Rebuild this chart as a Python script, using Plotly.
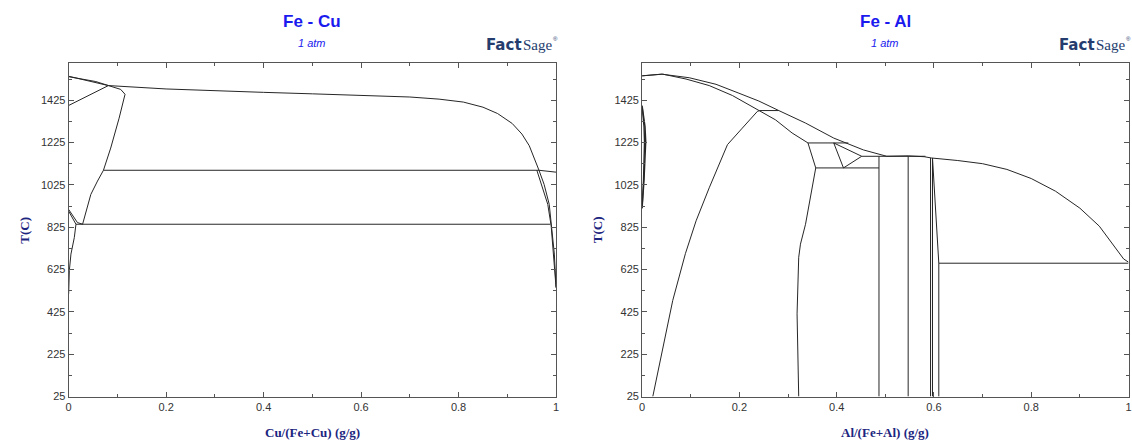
import plotly.graph_objects as go

# ---------------- Fe - Cu data ----------------
cu_liq_x = [0, 0.0816, 0.2, 0.3, 0.4, 0.5, 0.6, 0.7, 0.76, 0.81, 0.85, 0.88, 0.91, 0.93, 0.945, 0.955, 0.965, 1.0]
cu_liq_t = [1538, 1494, 1478, 1469, 1462, 1455, 1449, 1440, 1430, 1416, 1392, 1362, 1315, 1265, 1210, 1150, 1094, 1085]
cu_dsol_x = [0, 0.0557, 0.0816]
cu_dsol_t = [1536, 1513, 1494]
cu_dg_x = [0, 0.0816]
cu_dg_t = [1400, 1494]
cu_gam_x = [0.0816, 0.1067, 0.1157, 0.1137, 0.1035, 0.0863, 0.0714, 0.0592, 0.0455, 0.0286]
cu_gam_t = [1494, 1476, 1453, 1434, 1340, 1199, 1094, 1043, 980, 839]
cu_per_x = [0.0714, 0.965]
cu_per_t = [1094, 1094]
cu_solv_x = [0.9606, 0.983, 0.990, 0.995, 0.998, 1.0]
cu_solv_t = [1094, 933, 831, 700, 600, 540]
cu_sol2_x = [0.965, 0.9755, 0.986, 0.992, 0.9965, 0.9986, 1.0]
cu_sol2_t = [1094, 1027, 933, 809, 698, 604, 540]
cu_eut_x = [0.015, 0.988]
cu_eut_t = [839, 839]
cu_ag_x = [0, 0.018, 0.0286]
cu_ag_t = [909, 847, 839]
cu_ag2_x = [0, 0.015]
cu_ag2_t = [901, 839]
cu_asol_x = [0.015, 0.0116, 0.0047, 0.0014, 0]
cu_asol_t = [839, 776, 698, 620, 510]

# ---------------- Fe - Al data ----------------
al_liq_x = [0, 0.04, 0.097, 0.152, 0.199, 0.240, 0.281, 0.336, 0.394, 0.424, 0.455, 0.503, 0.547,
            0.58, 0.595, 0.649, 0.70, 0.75, 0.80, 0.85, 0.90, 0.94, 0.97, 0.99, 1.0]
al_liq_t = [1540, 1548, 1531, 1500, 1458, 1421, 1376, 1317, 1246, 1218, 1190, 1160, 1162,
            1158, 1152, 1140, 1125, 1098, 1055, 995, 915, 830, 740, 675, 660]
al_sol_x = [0, 0.0426, 0.0903, 0.138, 0.1857, 0.213, 0.2417, 0.2744, 0.3084, 0.341]
al_sol_t = [1540, 1548, 1525, 1494, 1447, 1411, 1376, 1332, 1270, 1223]
al_h1376_x = [0.2417, 0.281]
al_h1376_t = [1376, 1376]
al_b2_x = [0.022, 0.0495, 0.063, 0.089, 0.111, 0.138, 0.1755, 0.206, 0.237, 0.2417]
al_b2_t = [25, 338, 479, 700, 855, 1011, 1215, 1293, 1372, 1376]
al_h1223_x = [0.341, 0.424]
al_h1223_t = [1223, 1223]
al_epsl_x = [0.341, 0.357]
al_epsl_t = [1223, 1105]
al_bcc_x = [0.357, 0.349, 0.336, 0.3256, 0.322, 0.3186, 0.320, 0.322]
al_bcc_t = [1105, 996, 839, 745, 683, 416, 200, 25]
al_epsr_x = [0.394, 0.414]
al_epsr_t = [1223, 1105]
al_epst_x = [0.394, 0.4515]
al_epst_t = [1223, 1160]
al_epsf_x = [0.4515, 0.414]
al_epsf_t = [1160, 1105]
al_h1105_x = [0.357, 0.487]
al_h1105_t = [1105, 1105]
al_h1160_x = [0.4515, 0.5825]
al_h1160_t = [1160, 1160]
al_feal2_x = [0.487, 0.487]
al_feal2_t = [1160, 25]
al_fe2al5_x = [0.547, 0.547]
al_fe2al5_t = [1160, 25]
al_v3_x = [0.593, 0.593]
al_v3_t = [1152, 25]
al_v4_x = [0.597, 0.597]
al_v4_t = [1152, 25]
al_fe4_x = [0.597, 0.600, 0.604, 0.608, 0.610, 0.610]
al_fe4_t = [1152, 1050, 900, 750, 655, 25]
al_eut_x = [0.610, 1.0]
al_eut_t = [655, 655]
al_gl1_x = [0, 0.003, 0.006, 0.0075, 0.0065, 0.004, 0.002, 0]
al_gl1_t = [1400, 1360, 1300, 1230, 1150, 1050, 980, 915]
al_gl2_x = [0, 0.002, 0.004, 0.005, 0.0045, 0.003, 0.001, 0]
al_gl2_t = [1395, 1350, 1300, 1230, 1150, 1050, 970, 915]

cu_curves = [(cu_liq_x, cu_liq_t), (cu_dsol_x, cu_dsol_t), (cu_dg_x, cu_dg_t), (cu_gam_x, cu_gam_t),
             (cu_per_x, cu_per_t), (cu_solv_x, cu_solv_t), (cu_sol2_x, cu_sol2_t), (cu_eut_x, cu_eut_t),
             (cu_ag_x, cu_ag_t), (cu_ag2_x, cu_ag2_t), (cu_asol_x, cu_asol_t)]
al_curves = [(al_liq_x, al_liq_t), (al_sol_x, al_sol_t), (al_h1376_x, al_h1376_t), (al_b2_x, al_b2_t),
             (al_h1223_x, al_h1223_t), (al_epsl_x, al_epsl_t), (al_bcc_x, al_bcc_t), (al_epsr_x, al_epsr_t),
             (al_epst_x, al_epst_t), (al_epsf_x, al_epsf_t), (al_h1105_x, al_h1105_t), (al_h1160_x, al_h1160_t),
             (al_feal2_x, al_feal2_t), (al_fe2al5_x, al_fe2al5_t), (al_v3_x, al_v3_t), (al_v4_x, al_v4_t),
             (al_fe4_x, al_fe4_t), (al_eut_x, al_eut_t), (al_gl1_x, al_gl1_t), (al_gl2_x, al_gl2_t)]

y_ticks = [25, 225, 425, 625, 825, 1025, 1225, 1425]
x_ticks = [0, 0.2, 0.4, 0.6, 0.8, 1]
x_ticktext = ["0", "0.2", "0.4", "0.6", "0.8", "1"]

titles = ["Fe - Cu", "Fe - Al"]
subtitle = "1 atm"
x_titles = ["Cu/(Fe+Cu) (g/g)", "Al/(Fe+Al) (g/g)"]
y_title = "T(C)"
logo_a, logo_b, logo_r = "Fact", "Sage", "®"

W, H = 1132, 445
fig = go.Figure()

for xs, ts in cu_curves:
    fig.add_trace(go.Scatter(x=xs, y=ts, mode="lines", line=dict(color="#262626", width=1),
                             xaxis="x", yaxis="y", showlegend=False, hoverinfo="skip"))
for i, (xs, ts) in enumerate(al_curves):
    lw = 1.4 if i >= len(al_curves) - 2 else 1
    fig.add_trace(go.Scatter(x=xs, y=ts, mode="lines", line=dict(color="#262626", width=lw),
                             xaxis="x2", yaxis="y2", showlegend=False, hoverinfo="skip"))

dom_l = [66 / W, 556 / W]
dom_r = [642.5 / W, 1131.5 / W]
dom_y = [1 - 402 / H, 1 - 64 / H]

def xax(dom, anchor):
    return dict(domain=dom, anchor=anchor, range=[0, 1], showgrid=False, zeroline=False,
                showline=True, linecolor="#555555", linewidth=1, mirror="allticks",
                ticks="inside", ticklen=5, tickcolor="#555555", tickvals=x_ticks, ticktext=x_ticktext,
                tickfont=dict(family="Liberation Sans, Arial", size=11, color="#333333"),
                minor=dict(ticks="inside", ticklen=3, tickcolor="#555555", dtick=0.1, tick0=0, showgrid=False))

def yax(anchor):
    return dict(domain=dom_y, anchor=anchor, range=[25, 1600], showgrid=False, zeroline=False,
                showline=True, linecolor="#555555", linewidth=1, mirror="allticks",
                ticks="inside", ticklen=5, tickcolor="#555555", tickvals=y_ticks,
                tickfont=dict(family="Liberation Sans, Arial", size=11, color="#333333"),
                minor=dict(ticks="inside", ticklen=3, tickcolor="#555555", dtick=100, tick0=25, showgrid=False))

ann = []
for k, dom in enumerate([dom_l, dom_r]):
    cx = (dom[0] + dom[1]) / 2
    ann.append(dict(text="<b>%s</b>" % titles[k], x=cx, y=1 - 22 / H, xref="paper", yref="paper",
                    showarrow=False, xanchor="center", yanchor="middle",
                    font=dict(family="Liberation Sans, Arial", size=17, color="#1a1aee")))
    ann.append(dict(text="<i>%s</i>" % subtitle, x=cx, y=1 - 44 / H, xref="paper", yref="paper",
                    showarrow=False, xanchor="center", yanchor="middle",
                    font=dict(family="Liberation Sans, Arial", size=11, color="#1a1aee")))
    ann.append(dict(text="<b>%s</b>" % x_titles[k], x=cx, y=1 - 438 / H, xref="paper", yref="paper",
                    showarrow=False, xanchor="center", yanchor="middle",
                    font=dict(family="Liberation Serif, Times New Roman", size=13, color="#1c2580")))
    ann.append(dict(text="<b>%s</b>" % y_title, x=(dom[0] * W - 44) / W, y=1 - 233 / H, xref="paper", yref="paper",
                    showarrow=False, xanchor="center", yanchor="middle", textangle=-90,
                    font=dict(family="Liberation Serif, Times New Roman", size=13, color="#1c2580")))
    ann.append(dict(text="<b>%s</b>" % logo_a, x=dom[1] - 33 / W, y=1 - 46 / H, xref="paper", yref="paper",
                    showarrow=False, xanchor="right", yanchor="middle", borderpad=0,
                    font=dict(family="DejaVu Sans, Arial", size=15, color="#243d6e")))
    ann.append(dict(text=logo_b, x=dom[1] - 34 / W, y=1 - 46 / H, xref="paper", yref="paper",
                    showarrow=False, xanchor="left", yanchor="middle", borderpad=0,
                    font=dict(family="Liberation Serif, Times New Roman", size=15, color="#243d6e")))
    ann.append(dict(text=logo_r, x=dom[1] - 4 / W, y=1 - 40 / H, xref="paper", yref="paper",
                    showarrow=False, xanchor="left", yanchor="middle", borderpad=0,
                    font=dict(family="Liberation Sans, Arial", size=6, color="#243d6e")))

fig.update_layout(width=W, height=H, margin=dict(l=0, r=0, t=0, b=0),
                  paper_bgcolor="white", plot_bgcolor="white",
                  xaxis=xax(dom_l, "y"), yaxis=yax("x"),
                  xaxis2=xax(dom_r, "y2"), yaxis2=yax("x2"),
                  annotations=ann)
fig.write_html("out.html")
